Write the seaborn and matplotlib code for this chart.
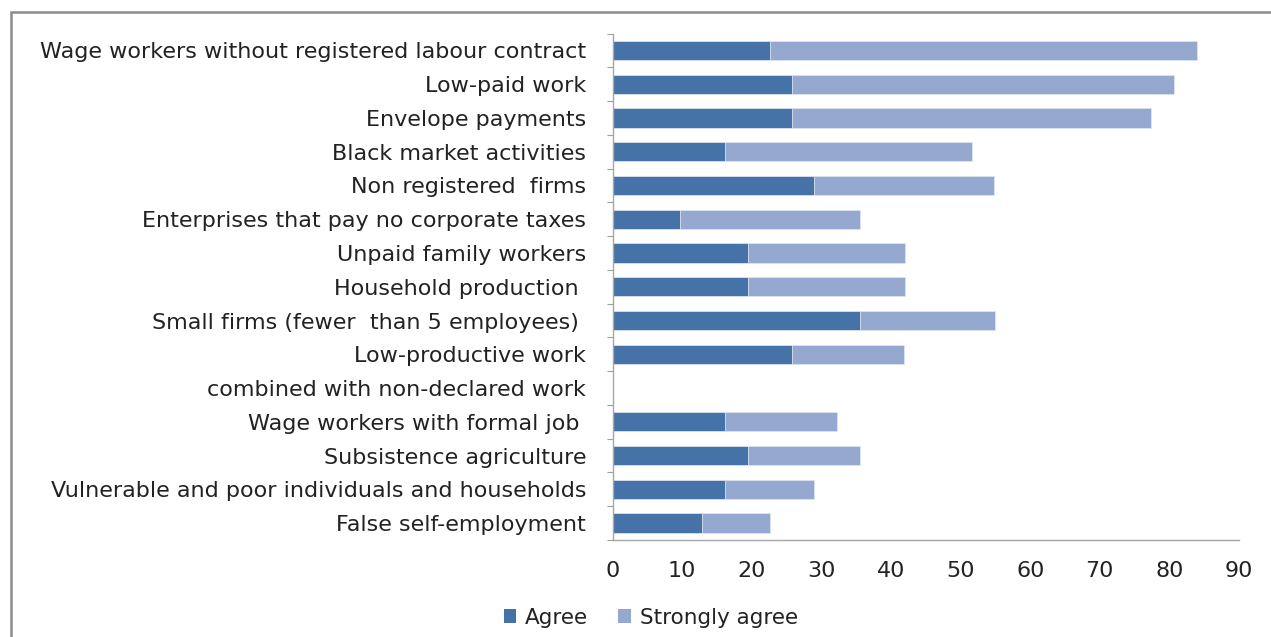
import matplotlib
matplotlib.use("Agg")
import matplotlib.pyplot as plt
from matplotlib.patches import Patch, Rectangle
import numpy as np
import pandas as pd
import seaborn as sns

categories = [
    "Wage workers without registered labour contract",
    "Low-paid work",
    "Envelope payments",
    "Black market activities",
    "Non registered  firms",
    "Enterprises that pay no corporate taxes",
    "Unpaid family workers",
    "Household production ",
    "Small firms (fewer  than 5 employees) ",
    "Low-productive work",
    "combined with non-declared work",
    "Wage workers with formal job ",
    "Subsistence agriculture",
    "Vulnerable and poor individuals and households",
    "False self-employment",
]
agree = [22.6, 25.8, 25.8, 16.1, 29.0, 9.7, 19.4, 19.4, 35.5, 25.8, np.nan, 16.1, 19.4, 16.1, 12.9]
strongly_agree = [61.3, 54.8, 51.6, 35.5, 25.8, 25.8, 22.6, 22.6, 19.4, 16.1, np.nan, 16.1, 16.1, 12.9, 9.7]
series_names = ["Agree", "Strongly agree"]
x_ticks = [0, 10, 20, 30, 40, 50, 60, 70, 80, 90]

dark = "#4573a7"
light = "#95a9d0"

df = pd.DataFrame({"category": categories, "agree": agree, "strongly": strongly_agree})
df["total"] = df["agree"] + df["strongly"]

sns.set_theme(style="white")
plt.rcParams["font.family"] = ["DejaVu Sans"]

fig = plt.figure(figsize=(12.71, 6.37), dpi=100)
ax = fig.add_axes([0.482, 0.1523, 0.4928, 0.7951])

sns.barplot(data=df, y="category", x="total", order=categories, orient="h",
            color=light, saturation=1, width=0.57, edgecolor="#dde4f0",
            linewidth=0.6, errorbar=None, ax=ax)
sns.barplot(data=df, y="category", x="agree", order=categories, orient="h",
            color=dark, saturation=1, width=0.57, edgecolor="#dde4f0",
            linewidth=0.6, errorbar=None, ax=ax)

ax.set_xlim(0, 90)
ax.set_ylim(len(categories) - 0.5, -0.5)
ax.set_xticks(x_ticks)
ax.set_xticklabels([str(t) for t in x_ticks], fontsize=16, color="#222222")
ax.set_yticks(range(len(categories)))
ax.set_yticklabels(categories, fontsize=16, color="#222222")
ax.set_xlabel("")
ax.set_ylabel("")

ax.tick_params(axis="y", which="major", length=0, pad=19)
ax.tick_params(axis="x", which="major", length=0, pad=15)
ax.set_yticks(np.arange(-0.5, len(categories), 1.0), minor=True)
ax.tick_params(axis="y", which="minor", left=True, length=4, width=0.8, color="#a0a0a0")

for side in ["top", "right"]:
    ax.spines[side].set_visible(False)
for side in ["left", "bottom"]:
    ax.spines[side].set_color("#a6a6a6")
    ax.spines[side].set_linewidth(1.0)

handles = [Patch(facecolor=dark, edgecolor="none"), Patch(facecolor=light, edgecolor="none")]
fig.legend(handles, series_names, loc="center", bbox_to_anchor=(0.512, 0.030),
           ncol=2, frameon=False, fontsize=15.5, handlelength=0.6, handleheight=0.6,
           handletextpad=0.4, columnspacing=1.4, labelcolor="#222222")

# outer chart border (runs off the right and bottom edges)
fig.patches.append(Rectangle((11 / 1271, -0.05), 1.2, (637 - 12) / 637 + 0.05,
                             transform=fig.transFigure, fill=False,
                             edgecolor="#8c8c8c", linewidth=1.8))

fig.savefig("out.png", dpi=100)
